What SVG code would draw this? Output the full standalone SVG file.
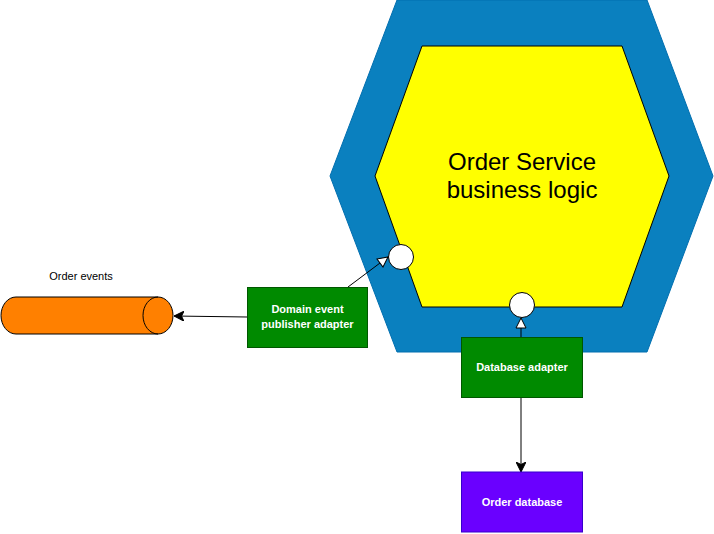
<svg xmlns="http://www.w3.org/2000/svg" width="714" height="534" viewBox="0 0 714 534">
<style>
  .lbl { font-family: "Liberation Sans", Arial, sans-serif; font-size: 11px; font-weight: bold; fill: #ffffff; text-anchor: middle; }
  .plain { font-family: "Liberation Sans", Arial, sans-serif; font-size: 11px; fill: #000000; text-anchor: middle; }
  .big { font-family: "Liberation Sans", Arial, sans-serif; font-size: 24px; fill: #000000; text-anchor: middle; }
  .green { fill: #008A00; stroke: #005700; stroke-width: 1; }
  .port { fill: #ffffff; stroke: #000000; stroke-width: 1; }
  .edge { fill: none; stroke: #000000; stroke-width: 1; }
</style>
<defs>
  <marker id="filled" viewBox="0 0 10 10" refX="10" refY="5" markerWidth="10" markerHeight="10" markerUnits="userSpaceOnUse" orient="auto">
    <path d="M0,0 L10,5 L0,10 L2.5,5 Z" fill="#000000" stroke="#000000" stroke-width="1"/>
  </marker>
  <marker id="open" viewBox="-1 -1 12 12" refX="10" refY="5" markerWidth="12" markerHeight="12" markerUnits="userSpaceOnUse" orient="auto">
    <path d="M0,0 L10,5 L0,10 Z" fill="#ffffff" stroke="#000000" stroke-width="1"/>
  </marker>
</defs>

<g id="outer-hexagon">
  <polygon points="397,0 647,0 713,176 647,352 397,352 330,176" fill="#0A80BF" stroke="#006EAF" stroke-width="1"/>
</g>

<g id="business-logic">
  <polygon points="422,46 622,46 669,176 622,307 422,307 375,176" fill="#FFFF00" stroke="#000000" stroke-width="1"/>
  <text class="big" x="522" y="170">Order Service</text>
  <text class="big" x="522" y="198">business logic</text>
</g>

<g id="connectors">
  <line class="edge" x1="348" y1="287" x2="388" y2="257" marker-end="url(#open)"/>
  <line class="edge" x1="521" y1="337" x2="521" y2="318" marker-end="url(#open)"/>
  <line class="edge" x1="247" y1="317" x2="174" y2="316" marker-end="url(#filled)"/>
  <line class="edge" x1="521" y1="397" x2="521" y2="472" marker-end="url(#filled)"/>
</g>

<g id="port-left">
  <circle class="port" cx="401" cy="257" r="12.5"/>
</g>
<g id="port-bottom">
  <circle class="port" cx="522" cy="305" r="12.5"/>
</g>

<g id="domain-event-publisher-adapter">
  <rect class="green" x="247.5" y="287.5" width="120" height="60"/>
  <text class="lbl" x="307.5" y="313">Domain event</text>
  <text class="lbl" x="307.5" y="328">publisher adapter</text>
</g>

<g id="database-adapter">
  <rect class="green" x="461.5" y="337.5" width="121" height="60"/>
  <text class="lbl" x="522" y="371">Database adapter</text>
</g>

<g id="order-database">
  <rect x="461.5" y="472" width="121" height="60" fill="#6A00FF" stroke="#3700CC" stroke-width="1"/>
  <text class="lbl" x="522" y="506">Order database</text>
</g>

<g id="order-events">
  <path d="M16,297 L158,297 A15,18.5 0 0 1 158,334 L16,334 A15,18.5 0 0 1 16,297 Z" fill="#FF8000" stroke="#000000" stroke-width="1"/>
  <path d="M158,297 A15,18.5 0 0 0 158,334" fill="none" stroke="#000000" stroke-width="1"/>
  <text class="plain" x="81" y="280">Order events</text>
</g>
</svg>
